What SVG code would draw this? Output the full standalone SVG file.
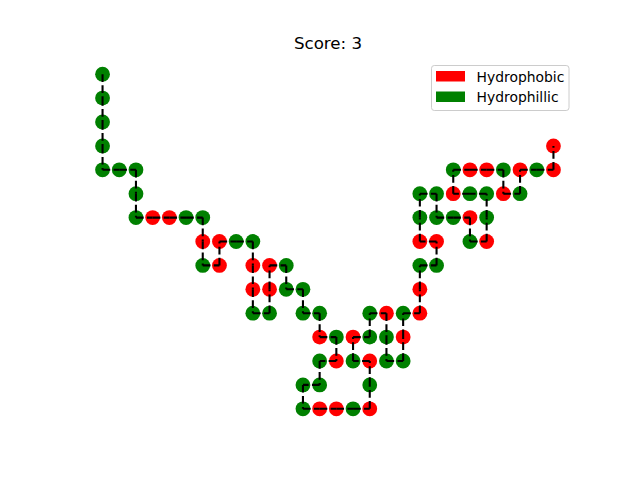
<svg xmlns="http://www.w3.org/2000/svg" width="640" height="480" viewBox="0 0 640 480">
<style>
.h{fill:#ff0000}
.p{fill:#008000}
.c line{stroke:#000;stroke-width:2.08;stroke-dasharray:7.7 3.3;fill:none}
.t{font-family:"DejaVu Sans",sans-serif;fill:#000}
</style>
<rect width="640" height="480" fill="#fff"/>
<text class="t" x="328" y="49" font-size="16.67" text-anchor="middle">Score: 3</text>
<g id="nodes">
<circle id="n1" class="p" cx="102.55" cy="74.2" r="7.4"/>
<circle id="n2" class="p" cx="102.55" cy="98.1" r="7.4"/>
<circle id="n3" class="p" cx="102.55" cy="122.0" r="7.4"/>
<circle id="n4" class="p" cx="102.55" cy="145.9" r="7.4"/>
<circle id="n5" class="p" cx="102.55" cy="169.8" r="7.4"/>
<circle id="n6" class="p" cx="119.25" cy="169.8" r="7.4"/>
<circle id="n7" class="p" cx="135.95" cy="169.8" r="7.4"/>
<circle id="n8" class="p" cx="135.95" cy="193.7" r="7.4"/>
<circle id="n9" class="p" cx="135.95" cy="217.6" r="7.4"/>
<circle id="n10" class="h" cx="152.65" cy="217.6" r="7.4"/>
<circle id="n11" class="h" cx="169.35" cy="217.6" r="7.4"/>
<circle id="n12" class="p" cx="186.05" cy="217.6" r="7.4"/>
<circle id="n13" class="p" cx="202.75" cy="217.6" r="7.4"/>
<circle id="n14" class="h" cx="202.75" cy="241.5" r="7.4"/>
<circle id="n15" class="p" cx="202.75" cy="265.4" r="7.4"/>
<circle id="n16" class="h" cx="219.45" cy="265.4" r="7.4"/>
<circle id="n17" class="h" cx="219.45" cy="241.5" r="7.4"/>
<circle id="n18" class="p" cx="236.15" cy="241.5" r="7.4"/>
<circle id="n19" class="p" cx="252.85" cy="241.5" r="7.4"/>
<circle id="n20" class="h" cx="252.85" cy="265.4" r="7.4"/>
<circle id="n21" class="h" cx="252.85" cy="289.3" r="7.4"/>
<circle id="n22" class="p" cx="252.85" cy="313.2" r="7.4"/>
<circle id="n23" class="p" cx="269.55" cy="313.2" r="7.4"/>
<circle id="n24" class="h" cx="269.55" cy="289.3" r="7.4"/>
<circle id="n25" class="h" cx="269.55" cy="265.4" r="7.4"/>
<circle id="n26" class="p" cx="286.25" cy="265.4" r="7.4"/>
<circle id="n27" class="p" cx="286.25" cy="289.3" r="7.4"/>
<circle id="n28" class="p" cx="302.95" cy="289.3" r="7.4"/>
<circle id="n29" class="p" cx="302.95" cy="313.2" r="7.4"/>
<circle id="n30" class="p" cx="319.65" cy="313.2" r="7.4"/>
<circle id="n31" class="h" cx="319.65" cy="337.1" r="7.4"/>
<circle id="n32" class="p" cx="336.35" cy="337.1" r="7.4"/>
<circle id="n33" class="h" cx="336.35" cy="361.0" r="7.4"/>
<circle id="n34" class="p" cx="319.65" cy="361.0" r="7.4"/>
<circle id="n35" class="p" cx="319.65" cy="384.9" r="7.4"/>
<circle id="n36" class="p" cx="302.95" cy="384.9" r="7.4"/>
<circle id="n37" class="p" cx="302.95" cy="408.8" r="7.4"/>
<circle id="n38" class="h" cx="319.65" cy="408.8" r="7.4"/>
<circle id="n39" class="h" cx="336.35" cy="408.8" r="7.4"/>
<circle id="n40" class="p" cx="353.05" cy="408.8" r="7.4"/>
<circle id="n41" class="h" cx="369.75" cy="408.8" r="7.4"/>
<circle id="n42" class="p" cx="369.75" cy="384.9" r="7.4"/>
<circle id="n43" class="h" cx="369.75" cy="361.0" r="7.4"/>
<circle id="n44" class="p" cx="353.05" cy="361.0" r="7.4"/>
<circle id="n45" class="h" cx="353.05" cy="337.1" r="7.4"/>
<circle id="n46" class="p" cx="369.75" cy="337.1" r="7.4"/>
<circle id="n47" class="p" cx="369.75" cy="313.2" r="7.4"/>
<circle id="n48" class="h" cx="386.45" cy="313.2" r="7.4"/>
<circle id="n49" class="p" cx="386.45" cy="337.1" r="7.4"/>
<circle id="n50" class="p" cx="386.45" cy="361.0" r="7.4"/>
<circle id="n51" class="p" cx="403.15" cy="361.0" r="7.4"/>
<circle id="n52" class="h" cx="403.15" cy="337.1" r="7.4"/>
<circle id="n53" class="p" cx="403.15" cy="313.2" r="7.4"/>
<circle id="n54" class="h" cx="419.85" cy="313.2" r="7.4"/>
<circle id="n55" class="h" cx="419.85" cy="289.3" r="7.4"/>
<circle id="n56" class="p" cx="419.85" cy="265.4" r="7.4"/>
<circle id="n57" class="p" cx="436.55" cy="265.4" r="7.4"/>
<circle id="n58" class="h" cx="436.55" cy="241.5" r="7.4"/>
<circle id="n59" class="h" cx="419.85" cy="241.5" r="7.4"/>
<circle id="n60" class="p" cx="419.85" cy="217.6" r="7.4"/>
<circle id="n61" class="p" cx="419.85" cy="193.7" r="7.4"/>
<circle id="n62" class="p" cx="436.55" cy="193.7" r="7.4"/>
<circle id="n63" class="p" cx="436.55" cy="217.6" r="7.4"/>
<circle id="n64" class="p" cx="453.25" cy="217.6" r="7.4"/>
<circle id="n65" class="h" cx="469.95" cy="217.6" r="7.4"/>
<circle id="n66" class="p" cx="469.95" cy="241.5" r="7.4"/>
<circle id="n67" class="h" cx="486.65" cy="241.5" r="7.4"/>
<circle id="n68" class="p" cx="486.65" cy="217.6" r="7.4"/>
<circle id="n69" class="p" cx="486.65" cy="193.7" r="7.4"/>
<circle id="n70" class="p" cx="469.95" cy="193.7" r="7.4"/>
<circle id="n71" class="h" cx="453.25" cy="193.7" r="7.4"/>
<circle id="n72" class="p" cx="453.25" cy="169.8" r="7.4"/>
<circle id="n73" class="h" cx="469.95" cy="169.8" r="7.4"/>
<circle id="n74" class="h" cx="486.65" cy="169.8" r="7.4"/>
<circle id="n75" class="p" cx="503.35" cy="169.8" r="7.4"/>
<circle id="n76" class="h" cx="503.35" cy="193.7" r="7.4"/>
<circle id="n77" class="p" cx="520.05" cy="193.7" r="7.4"/>
<circle id="n78" class="h" cx="520.05" cy="169.8" r="7.4"/>
<circle id="n79" class="p" cx="536.75" cy="169.8" r="7.4"/>
<circle id="n80" class="h" cx="553.45" cy="169.8" r="7.4"/>
<circle id="n81" class="h" cx="553.45" cy="145.9" r="7.4"/>
</g>
<g id="connectors" class="c">
<line x1="102.55" y1="74.2" x2="102.55" y2="98.1"/>
<line x1="102.55" y1="98.1" x2="102.55" y2="122.0"/>
<line x1="102.55" y1="122.0" x2="102.55" y2="145.9"/>
<line x1="102.55" y1="145.9" x2="102.55" y2="169.8"/>
<line x1="102.55" y1="169.8" x2="119.25" y2="169.8"/>
<line x1="119.25" y1="169.8" x2="135.95" y2="169.8"/>
<line x1="135.95" y1="169.8" x2="135.95" y2="193.7"/>
<line x1="135.95" y1="193.7" x2="135.95" y2="217.6"/>
<line x1="135.95" y1="217.6" x2="152.65" y2="217.6"/>
<line x1="152.65" y1="217.6" x2="169.35" y2="217.6"/>
<line x1="169.35" y1="217.6" x2="186.05" y2="217.6"/>
<line x1="186.05" y1="217.6" x2="202.75" y2="217.6"/>
<line x1="202.75" y1="217.6" x2="202.75" y2="241.5"/>
<line x1="202.75" y1="241.5" x2="202.75" y2="265.4"/>
<line x1="202.75" y1="265.4" x2="219.45" y2="265.4"/>
<line x1="219.45" y1="265.4" x2="219.45" y2="241.5"/>
<line x1="219.45" y1="241.5" x2="236.15" y2="241.5"/>
<line x1="236.15" y1="241.5" x2="252.85" y2="241.5"/>
<line x1="252.85" y1="241.5" x2="252.85" y2="265.4"/>
<line x1="252.85" y1="265.4" x2="252.85" y2="289.3"/>
<line x1="252.85" y1="289.3" x2="252.85" y2="313.2"/>
<line x1="252.85" y1="313.2" x2="269.55" y2="313.2"/>
<line x1="269.55" y1="313.2" x2="269.55" y2="289.3"/>
<line x1="269.55" y1="289.3" x2="269.55" y2="265.4"/>
<line x1="269.55" y1="265.4" x2="286.25" y2="265.4"/>
<line x1="286.25" y1="265.4" x2="286.25" y2="289.3"/>
<line x1="286.25" y1="289.3" x2="302.95" y2="289.3"/>
<line x1="302.95" y1="289.3" x2="302.95" y2="313.2"/>
<line x1="302.95" y1="313.2" x2="319.65" y2="313.2"/>
<line x1="319.65" y1="313.2" x2="319.65" y2="337.1"/>
<line x1="319.65" y1="337.1" x2="336.35" y2="337.1"/>
<line x1="336.35" y1="337.1" x2="336.35" y2="361.0"/>
<line x1="336.35" y1="361.0" x2="319.65" y2="361.0"/>
<line x1="319.65" y1="361.0" x2="319.65" y2="384.9"/>
<line x1="319.65" y1="384.9" x2="302.95" y2="384.9"/>
<line x1="302.95" y1="384.9" x2="302.95" y2="408.8"/>
<line x1="302.95" y1="408.8" x2="319.65" y2="408.8"/>
<line x1="319.65" y1="408.8" x2="336.35" y2="408.8"/>
<line x1="336.35" y1="408.8" x2="353.05" y2="408.8"/>
<line x1="353.05" y1="408.8" x2="369.75" y2="408.8"/>
<line x1="369.75" y1="408.8" x2="369.75" y2="384.9"/>
<line x1="369.75" y1="384.9" x2="369.75" y2="361.0"/>
<line x1="369.75" y1="361.0" x2="353.05" y2="361.0"/>
<line x1="353.05" y1="361.0" x2="353.05" y2="337.1"/>
<line x1="353.05" y1="337.1" x2="369.75" y2="337.1"/>
<line x1="369.75" y1="337.1" x2="369.75" y2="313.2"/>
<line x1="369.75" y1="313.2" x2="386.45" y2="313.2"/>
<line x1="386.45" y1="313.2" x2="386.45" y2="337.1"/>
<line x1="386.45" y1="337.1" x2="386.45" y2="361.0"/>
<line x1="386.45" y1="361.0" x2="403.15" y2="361.0"/>
<line x1="403.15" y1="361.0" x2="403.15" y2="337.1"/>
<line x1="403.15" y1="337.1" x2="403.15" y2="313.2"/>
<line x1="403.15" y1="313.2" x2="419.85" y2="313.2"/>
<line x1="419.85" y1="313.2" x2="419.85" y2="289.3"/>
<line x1="419.85" y1="289.3" x2="419.85" y2="265.4"/>
<line x1="419.85" y1="265.4" x2="436.55" y2="265.4"/>
<line x1="436.55" y1="265.4" x2="436.55" y2="241.5"/>
<line x1="436.55" y1="241.5" x2="419.85" y2="241.5"/>
<line x1="419.85" y1="241.5" x2="419.85" y2="217.6"/>
<line x1="419.85" y1="217.6" x2="419.85" y2="193.7"/>
<line x1="419.85" y1="193.7" x2="436.55" y2="193.7"/>
<line x1="436.55" y1="193.7" x2="436.55" y2="217.6"/>
<line x1="436.55" y1="217.6" x2="453.25" y2="217.6"/>
<line x1="453.25" y1="217.6" x2="469.95" y2="217.6"/>
<line x1="469.95" y1="217.6" x2="469.95" y2="241.5"/>
<line x1="469.95" y1="241.5" x2="486.65" y2="241.5"/>
<line x1="486.65" y1="241.5" x2="486.65" y2="217.6"/>
<line x1="486.65" y1="217.6" x2="486.65" y2="193.7"/>
<line x1="486.65" y1="193.7" x2="469.95" y2="193.7"/>
<line x1="469.95" y1="193.7" x2="453.25" y2="193.7"/>
<line x1="453.25" y1="193.7" x2="453.25" y2="169.8"/>
<line x1="453.25" y1="169.8" x2="469.95" y2="169.8"/>
<line x1="469.95" y1="169.8" x2="486.65" y2="169.8"/>
<line x1="486.65" y1="169.8" x2="503.35" y2="169.8"/>
<line x1="503.35" y1="169.8" x2="503.35" y2="193.7"/>
<line x1="503.35" y1="193.7" x2="520.05" y2="193.7"/>
<line x1="520.05" y1="193.7" x2="520.05" y2="169.8"/>
<line x1="520.05" y1="169.8" x2="536.75" y2="169.8"/>
<line x1="536.75" y1="169.8" x2="553.45" y2="169.8"/>
<line x1="553.45" y1="169.8" x2="553.45" y2="145.9"/>
</g>
<g id="legend">
<rect x="431.5" y="65.5" width="137.5" height="45" rx="2.8" fill="#fff" fill-opacity="0.8" stroke="#cccccc" stroke-width="1"/>
<rect class="h" x="436" y="71" width="29" height="10.5"/>
<rect class="p" x="436" y="91.5" width="29" height="10.5"/>
<text class="t" x="476.5" y="81.5" font-size="13.9">Hydrophobic</text>
<text class="t" x="476.5" y="102" font-size="13.9">Hydrophillic</text>
</g>
</svg>
